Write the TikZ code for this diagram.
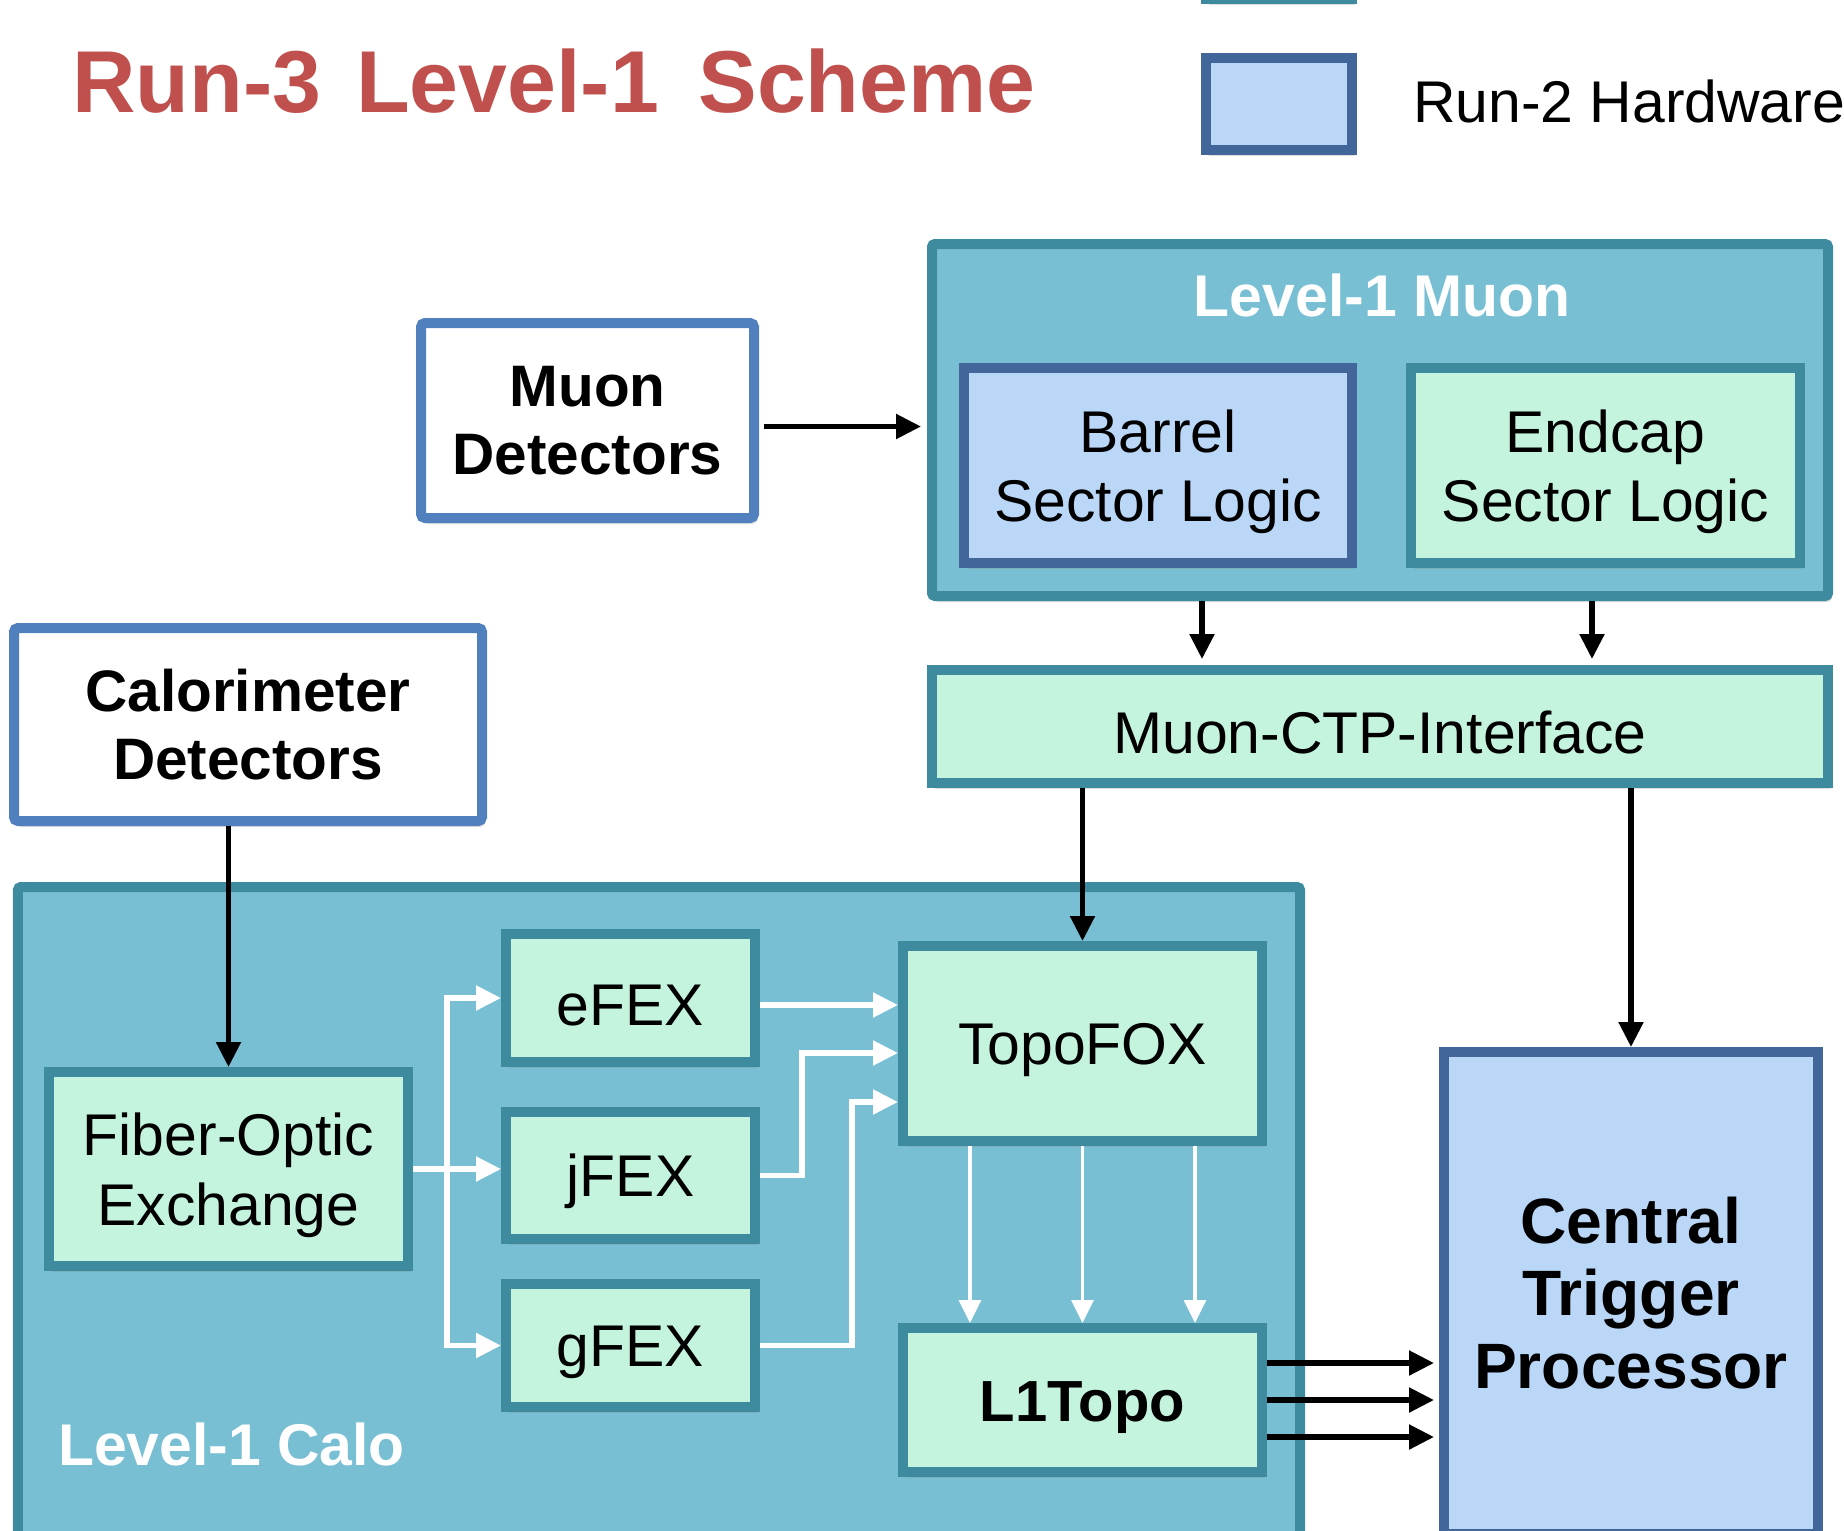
\documentclass[tikz,border=0pt]{standalone}
\usepackage{fontspec}
\setmainfont{Liberation Sans}
\usepackage{tikz}
\usetikzlibrary{arrows.meta, positioning, shadows}

\definecolor{titlered}{HTML}{C0504D}
\definecolor{l1fill}{HTML}{79BFD4}
\definecolor{tealedge}{HTML}{3E8A9E}
\definecolor{newfill}{HTML}{C5F4DE}
\definecolor{oldfill}{HTML}{BBD7F7}
\definecolor{oldedge}{HTML}{426699}
\definecolor{detedge}{HTML}{5080BD}

% raises the first line box so the text sits a little low
\newcommand{\sinkline}{\rule{0pt}{1.1cm}}

\begin{document}
\begin{tikzpicture}[
  boxtext/.style={font=\fontsize{33.5}{39.5}\selectfont},
  sunk/.style={execute at begin node={\sinkline}},
  boxshadow/.style={drop shadow={opacity=0.25, shadow xshift=0.06cm, shadow yshift=-0.12cm}},
  system/.style={rectangle, draw=tealedge, fill=l1fill, line width=0.2cm, rounded corners=0.06cm, boxshadow},
  newhw/.style={rectangle, draw=tealedge, fill=newfill, line width=0.2cm, inner sep=0pt, align=center, boxtext, sunk, boxshadow},
  oldhw/.style={rectangle, draw=oldedge, fill=oldfill, line width=0.2cm, inner sep=0pt, align=center, boxtext, boxshadow},
  detector/.style={rectangle, draw=detedge, fill=white, line width=0.2cm, rounded corners=0.08cm, inner sep=0pt, align=center, font=\bfseries\fontsize{33.3}{39}\selectfont, boxshadow},
  syslabel/.style={text=white, font=\bfseries\fontsize{33.5}{39}\selectfont},
  line/.style={draw, line width=3pt, -{Triangle[length=0.5cm, width=0.48cm]}},
  wline/.style={line, draw=white},
  thinline/.style={draw=white, line width=1.8pt, -{Triangle[length=0.46cm, width=0.44cm]}}
]
  \path[use as bounding box, clip] (0,0) rectangle (36.88,-30.62);

  % title and key
  \node[anchor=base west, text=titlered, font=\bfseries\fontsize{50}{58}\selectfont] (title) at (1.32,-2.24) {Run-3\hspace{0.4em}Level-1\hspace{0.45em}Scheme};
  \node[newhw, minimum width=2.92cm, minimum height=1.84cm] (keynew) at (25.58,0.94) {};
  \node[oldhw, minimum width=2.92cm, minimum height=1.84cm] (keyold) at (25.58,-2.08) {};
  \node[anchor=base west, boxtext] (keyoldtext) at (28.14,-2.44) {Run-2 Hardware};

  % systems
  \node[system, minimum width=17.92cm, minimum height=7.04cm] (l1muon) at (27.60,-8.40) {};
  \node[syslabel, anchor=base] (l1muonlabel) at (27.64,-6.32) {Level-1 Muon};
  \node[system, minimum width=25.64cm, minimum height=14.26cm] (l1calo) at (13.18,-24.87) {};
  \node[syslabel, anchor=base west] (l1calolabel) at (1.04,-29.30) {Level-1 Calo};

  % detectors
  \node[detector, minimum width=6.66cm, minimum height=3.90cm] (muondet) at (11.75,-8.41) {Muon\\Detectors};
  \node[detector, minimum width=9.36cm, minimum height=3.86cm] (calodet) at (4.96,-14.49) {Calorimeter\\Detectors};

  % muon side
  \node[oldhw, minimum width=7.76cm, minimum height=3.90cm] (barrel) at (23.16,-9.31) {\sinkline Barrel\\Sector Logic};
  \node[newhw, minimum width=7.78cm, minimum height=3.90cm] (endcap) at (32.11,-9.31) {\sinkline Endcap\\Sector Logic};
  \node[newhw, minimum width=17.92cm, minimum height=2.26cm] (mctp) at (27.60,-14.53) {Muon-CTP-Interface};

  % calo side
  \node[newhw, minimum width=7.18cm, minimum height=3.88cm] (foe) at (4.57,-23.38) {\sinkline Fiber-Optic\\Exchange};
  \node[newhw, minimum width=4.98cm, minimum height=2.56cm] (efex) at (12.61,-19.96) {eFEX};
  \node[newhw, minimum width=4.98cm, minimum height=2.54cm] (jfex) at (12.61,-23.51) {jFEX};
  \node[newhw, minimum width=4.98cm, minimum height=2.46cm] (gfex) at (12.61,-26.91) {gFEX};
  \node[newhw, minimum width=7.18cm, minimum height=3.90cm] (topofox) at (21.65,-20.87) {TopoFOX};
  \node[newhw, minimum width=7.18cm, minimum height=2.88cm, font=\bfseries\fontsize{33}{39}\selectfont] (l1topo) at (21.65,-28.00) {L1Topo};
  \node[oldhw, minimum width=7.48cm, minimum height=9.64cm, font=\bfseries\fontsize{36.5}{41.5}\selectfont] (ctp) at (32.62,-25.86) {Central\\Trigger\\Processor};

  % black connections
  \path[line, shorten <=0.1cm, shorten >=0.12cm] ([yshift=-0.12cm]muondet.east) coordinate (md) -- (md -| l1muon.west);
  \path[line, shorten >=0.12cm] ([xshift=-3.56cm]l1muon.south) -- ([xshift=-3.56cm]mctp.north);
  \path[line, shorten >=0.12cm] ([xshift=4.24cm]l1muon.south) -- ([xshift=4.24cm]mctp.north);
  \path[line] (topofox.north |- mctp.south) -- (topofox.north);
  \path[line] (ctp.north |- mctp.south) -- (ctp.north);
  \path[line] (foe.north |- calodet.south) -- (foe.north);
  \foreach \dy in {0.74,0,-0.74}
    \path[line, shorten >=0.1cm] ([yshift=\dy cm]l1topo.east) coordinate (out) -- (out -| ctp.west);

  % white connections
  \coordinate (split) at ([xshift=0.68cm]foe.east);
  \path[wline] (foe.east) -- (foe.east -| jfex.west);
  \path[wline] (split) |- (efex.west);
  \path[wline] (split) |- (gfex.west);
  \path[wline] ([yshift=-0.14cm]efex.east) coordinate (ef) -- (ef -| topofox.west);
  \path[wline] (jfex.east) -- ++(0.84,0) |- ([yshift=-0.19cm]topofox.west);
  \path[wline] (gfex.east) -- ++(1.84,0) |- ([yshift=-1.17cm]topofox.west);
  \foreach \dx in {-2.25,0,2.25}
    \path[thinline] ([xshift=\dx cm]topofox.south) -- ([xshift=\dx cm]l1topo.north);
\end{tikzpicture}
\end{document}
